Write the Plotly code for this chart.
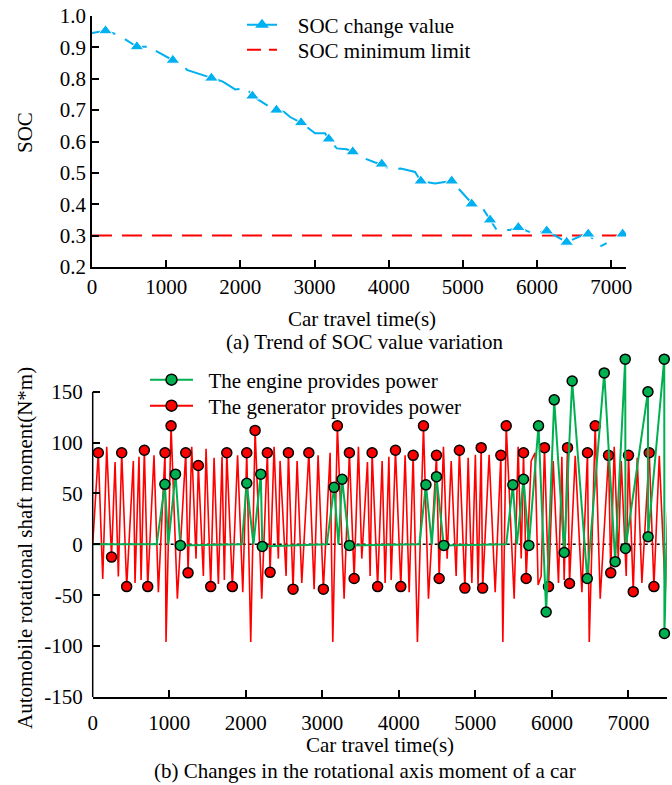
import plotly.graph_objects as go

# ---------------- data: (a) SOC ----------------
soc_time = [0, 182, 357, 605, 807, 842, 1090, 1212, 1279, 1610, 1764, 1930, 2088, 2163,
            2379, 2487, 2590, 2671, 2819, 3008, 3143, 3193, 3300, 3435, 3516, 3615, 3817,
            3907, 4019, 4163, 4356, 4433, 4625, 4850, 5120, 5187, 5255, 5367, 5457, 5636,
            5748, 5950, 6131, 6400, 6580, 6691, 6849, 6939, None, 7155]
soc_value = [0.946, 0.953, 0.939, 0.902, 0.902, 0.891, 0.859, 0.849, 0.828, 0.802, 0.791,
             0.766, 0.770, 0.745, 0.713, 0.700, 0.694, 0.678, 0.660, 0.626, 0.626, 0.608,
             0.578, 0.575, 0.567, 0.552, 0.533, 0.528, 0.511, 0.514, 0.503, 0.474, 0.466,
             0.474, 0.401, 0.386, 0.392, 0.350, 0.318, 0.318, 0.326, 0.307, 0.315, 0.279,
             0.298, 0.305, 0.265, 0.276, None, 0.305]
soc_marker = [0, 1, 0, 1, 0, 0, 1, 0, 0, 1, 0, 0, 0, 1, 0, 1, 0, 0, 1, 0, 0, 1, 0, 0, 1,
              0, 0, 1, 0, 0, 0, 1, 0, 1, 1, 0, 0, 1, 0, 0, 1, 0, 1, 1, 0, 1, 0, 0, 0, 1]
soc_limit_time = [0, 7200]
soc_limit_value = [0.30, 0.30]

# ---------------- data: (b) shaft moment ----------------
red_time = [0, 73, 131, 183, 246, 292, 335, 379, 444, 531, 553, 605, 632, 675, 719, 801, 858,
            945, 958, 1024, 1106, 1216, 1246, 1294, 1350, 1380, 1446, 1481, 1542, 1586, 1642,
            1690, 1720, 1752, 1825, 1893, 1961, 2013, 2065, 2122, 2209, 2282, 2318, 2370, 2426,
            2448, 2527, 2557, 2618, 2671, 2732, 2824, 2893, 2945, 3014, 3102, 3137, 3197, 3285,
            3354, 3416, 3472, 3516, 3590, 3625, 3651, 3723, 3782, 3821, 3870, 3900, 3956, 4026,
            4082, 4135, 4187, 4243, 4322, 4387, 4492, 4527, 4583, 4631, 4684, 4749, 4791, 4863,
            4906, 4954, 5000, 5035, 5076, 5095, 5180, 5259, 5333, 5359, 5403, 5507, 5559, 5599,
            5629, 5664, 5729, 5780, 5820, 5860, 5903, 5956, 6017, 6086, 6130, 6160, 6204, 6230,
            6305, 6392, 6465, 6488, 6566, 6631, 6740, 6769, 6814, 6867, 6906, 6971, 7001, 7063,
            7115, 7176, 7272, 7333, 7403, 7481, 7537]
red_value = [0, 90, -34, 96, -12.5, 81, -31.5, 90, -41.5, 82, -38, 86, -35, 92.5, -41.5, 87.5,
             -47, 90, -96, 116.5, -53.5, 90, -28, 96, -14, 77.5, -31, 94, -41.5, 85, -39, 86,
             -35, 90, -41.5, 87.5, -47, 90, -96, 112, -53.5, 90, -27.5, 96, -14, 82, -31, 90,
             -44, 82, -38, 90, -44, 87.5, -44, 90, -96, 116.5, -53.5, 90, -33.5, 96, -14, 81,
             -31, 90, -41.5, 82, -38, 86, -35, 92.5, -41.5, 87.5, -47, 87.5, -96, 116.5, -53.5,
             87.5, -33.5, 96, -14, 82, -31, 92.5, -43, 85, -38, 88, -40, 95, -43, 88, -47, 87.5,
             -96, 116.5, -53.5, 96, -14, 90, -33.5, 82, 90, -40, -31, 95, -41.5, 82, -38, 86,
             -35, 95, -38.5, 87, -47, 90, -96, 116.5, -53.5, 87.5, -28, 96, -14, 82, -31, 87.5,
             -46.5, 85, -38, 90, -41.5, 87, -47, 87.5]
red_marker = [0, 1, 0, 0, 1, 0, 0, 1, 1, 0, 0, 0, 0, 1, 1, 0, 0, 1, 0, 1, 0, 1, 1, 0, 0, 1, 0,
              0, 1, 0, 0, 0, 0, 1, 1, 0, 0, 1, 0, 1, 0, 1, 1, 0, 0, 0, 0, 1, 1, 0, 0, 1, 0, 0,
              1, 0, 0, 1, 0, 1, 1, 0, 0, 0, 0, 1, 1, 0, 0, 0, 0, 1, 1, 0, 0, 1, 0, 1, 0, 1, 1,
              0, 0, 0, 0, 1, 1, 0, 0, 0, 0, 1, 1, 0, 0, 1, 0, 1, 0, 0, 0, 1, 1, 0, 0, 0, 0, 1,
              1, 0, 0, 0, 0, 1, 1, 0, 0, 1, 0, 1, 0, 1, 1, 0, 0, 0, 0, 1, 1, 0, 0, 1, 1, 0, 0, 1]

green_time = [0, 836, 943, 988, 1082, 1145, 1948, 2013, 2100, 2196, 2216, 3059, 3154, 3211,
              3259, 3354, 4269, 4354, 4431, 4492, 4587, 5403, 5490, 5542, 5629, 5699, 5825,
              5925, 6030, 6161, 6265, 6462, 6684, 6827, 6958, 6962, 7255, 7257, 7468, 7470, 7560]
green_value = [0, 0, 59, 0, 69, -1, 0, 60, 0, 69, -2, 0, 56, 0, 64, -1, 0, 58.5, 0, 66.5, -1,
               0, 58.5, 0, 64, -1, 116.5, -66.5, 142, -8, 160.5, -33.5, 168.5, -17, 182, -4,
               150, 7.5, 182, -87.5, 152]
green_marker = [0, 0, 1, 0, 1, 1, 0, 1, 0, 1, 1, 0, 1, 0, 1, 1, 0, 1, 0, 1, 1, 0, 1, 0, 1, 1,
                1, 1, 1, 1, 1, 1, 1, 1, 1, 1, 1, 1, 1, 1, 1]

x_ticks_a = [0, 1000, 2000, 3000, 4000, 5000, 6000, 7000, 7200]
x_ticks_b = [0, 1000, 2000, 3000, 4000, 5000, 6000, 7000, 7500]
y_ticks_a = [0.2, 0.3, 0.4, 0.5, 0.6, 0.7, 0.8, 0.9, 1.0]
y_ticks_b = [-150, -100, -50, 0, 50, 100, 150]

# ---------------- styling ----------------
W, H = 672, 785
FONT = "Liberation Serif"
FS = 21
BLUE = "#00B0F0"
RED = "#FF0000"
GREEN = "#00B050"
NB = "\u00a0"


def px(x):
    return x / W


def py(y):
    return 1 - y / H


fig = go.Figure()

# (a)
fig.add_trace(go.Scatter(x=soc_limit_time, y=soc_limit_value, mode="lines",
                         line=dict(color=RED, width=2, dash="20px,10px"),
                         xaxis="x", yaxis="y", showlegend=False, hoverinfo="skip"))
fig.add_trace(go.Scatter(x=soc_time, y=soc_value, mode="lines+markers", connectgaps=False,
                         line=dict(color=BLUE, width=2, dash="24px,11px"),
                         marker=dict(symbol="triangle-up", color=BLUE, opacity=1,
                                     size=[12 if m else 0 for m in soc_marker]),
                         xaxis="x", yaxis="y", showlegend=False))
fig.add_trace(go.Scatter(x=[None], y=[None], mode="lines+markers",
                         name=NB * 3 + "SOC change value",
                         line=dict(color=BLUE, width=2),
                         marker=dict(symbol="triangle-up", color=BLUE, size=12, opacity=1),
                         xaxis="x", yaxis="y", legend="legend"))
fig.add_trace(go.Scatter(x=[None], y=[None], mode="lines",
                         name=NB * 3 + "SOC minimum limit",
                         line=dict(color=RED, width=2, dash="14px,8px"),
                         xaxis="x", yaxis="y", legend="legend2"))

# (b)
fig.add_trace(go.Scatter(x=red_time, y=red_value, mode="lines+markers", cliponaxis=False,
                         line=dict(color=RED, width=1.6),
                         marker=dict(symbol="circle", color=RED, opacity=1,
                                     size=[10 if m else 0 for m in red_marker],
                                     line=dict(color="black",
                                               width=[1.5 if m else 0 for m in red_marker])),
                         xaxis="x2", yaxis="y2", showlegend=False))
fig.add_trace(go.Scatter(x=green_time, y=green_value, mode="lines+markers", cliponaxis=False,
                         line=dict(color=GREEN, width=2),
                         marker=dict(symbol="circle", color=GREEN, opacity=1,
                                     size=[10 if m else 0 for m in green_marker],
                                     line=dict(color="black",
                                               width=[1.5 if m else 0 for m in green_marker])),
                         xaxis="x2", yaxis="y2", showlegend=False))
fig.add_trace(go.Scatter(x=[None], y=[None], mode="lines+markers",
                         name=NB * 2 + "The engine provides power",
                         line=dict(color=GREEN, width=2),
                         marker=dict(symbol="circle", color=GREEN, size=11, opacity=1,
                                     line=dict(color="black", width=1.5)),
                         xaxis="x2", yaxis="y2", legend="legend3"))
fig.add_trace(go.Scatter(x=[None], y=[None], mode="lines+markers",
                         name=NB * 2 + "The generator provides power",
                         line=dict(color=RED, width=2),
                         marker=dict(symbol="circle", color=RED, size=11, opacity=1,
                                     line=dict(color="black", width=1.5)),
                         xaxis="x2", yaxis="y2", legend="legend4"))

axis_common = dict(ticks="inside", ticklen=7, tickwidth=1.5, tickcolor="black",
                   showgrid=False, zeroline=False, automargin=False,
                   tickfont=dict(family=FONT, size=FS, color="black"))


def leg(x, y, iw):
    return dict(x=px(x), y=py(y), xanchor="left", yanchor="middle",
                bgcolor="rgba(0,0,0,0)", font=dict(family=FONT, size=FS, color="black"),
                itemwidth=iw)


fig.update_layout(
    width=W, height=H,
    margin=dict(l=0, r=0, t=0, b=0),
    paper_bgcolor="white", plot_bgcolor="white",
    font=dict(family=FONT, size=FS, color="black"),
    xaxis=dict(domain=[px(92), px(626)], range=[0, 7200], anchor="y",
               tickvals=x_ticks_a, ticktext=[str(v) if v <= 7000 else "" for v in x_ticks_a],
               showline=True, linecolor="black", linewidth=1.5, **axis_common),
    yaxis=dict(domain=[py(267), py(16)], range=[0.2, 1.0], anchor="x",
               tickvals=y_ticks_a, ticktext=["%.1f" % v for v in y_ticks_a],
               showline=True, linecolor="black", linewidth=1.5, **axis_common),
    xaxis2=dict(domain=[px(92.7), px(666.7)], range=[0, 7500], anchor="y2",
                tickvals=x_ticks_b, ticktext=[str(v) if v <= 7000 else "" for v in x_ticks_b],
                showline=True, linecolor="black", linewidth=1.5, ticklabelstandoff=6,
                **axis_common),
    yaxis2=dict(domain=[py(697), py(356.1)], range=[-150, 185], anchor="x2",
                tickvals=y_ticks_b, ticktext=[str(v) for v in y_ticks_b],
                showline=False, ticklabelstandoff=9, **axis_common),
    legend=leg(242, 25, 30),
    legend2=leg(242, 50, 30),
    legend3=leg(145, 380, 43),
    legend4=leg(145, 406, 43),
    shapes=[
        dict(type="line", xref="x2 domain", yref="y2", x0=0, x1=0, y0=-150, y1=150,
             line=dict(color="black", width=1.5)),
        dict(type="line", xref="x2 domain", yref="y2", x0=0, x1=1, y0=0, y1=0,
             line=dict(color="black", width=1.5, dash="dot"), layer="below"),
    ],
    annotations=[
        dict(text="SOC", x=px(25), y=py(133), xref="paper", yref="paper", textangle=-90,
             xanchor="center", yanchor="middle", showarrow=False,
             font=dict(family=FONT, size=FS)),
        dict(text="Car travel time(s)", x=px(362), y=py(319), xref="paper", yref="paper",
             xanchor="center", yanchor="middle", showarrow=False,
             font=dict(family=FONT, size=FS)),
        dict(text="(a) Trend of SOC value variation", x=px(365), y=py(342), xref="paper",
             yref="paper", xanchor="center", yanchor="middle", showarrow=False,
             font=dict(family=FONT, size=FS)),
        dict(text="Automobile rotational shaft moment(N*m)", x=px(25), y=py(548),
             xref="paper", yref="paper", textangle=-90, xanchor="center", yanchor="middle",
             showarrow=False, font=dict(family=FONT, size=FS)),
        dict(text="Car travel time(s)", x=px(380), y=py(745), xref="paper", yref="paper",
             xanchor="center", yanchor="middle", showarrow=False,
             font=dict(family=FONT, size=FS)),
        dict(text="(b) Changes in the rotational axis moment of a car", x=px(365), y=py(771),
             xref="paper", yref="paper", xanchor="center", yanchor="middle", showarrow=False,
             font=dict(family=FONT, size=FS)),
    ],
)

fig.write_html("out.html", config={"displayModeBar": False},
               post_script="document.body.style.margin='0';document.body.style.overflow='hidden';")
